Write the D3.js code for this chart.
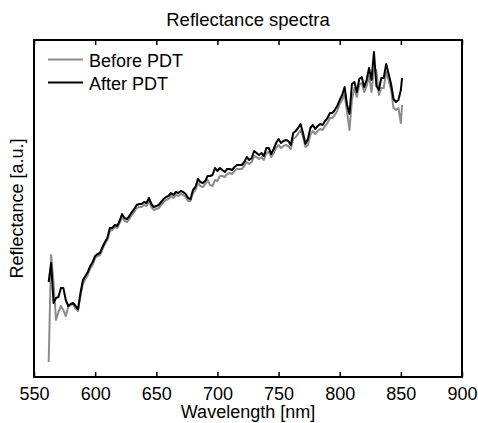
<!DOCTYPE html>
<html>
<head>
<meta charset="utf-8">
<script src="https://cdn.jsdelivr.net/npm/d3@7"></script>
<style>
  html, body { margin: 0; padding: 0; background: #fff; }
  svg { display: block; }
  text { font-family: "Liberation Sans", Arial, Helvetica, sans-serif; fill: #000; }
</style>
</head>
<body>
<svg id="chart" width="478" height="423"></svg>
<script>
const wavelengths = [562,564,566,568,570,572,574,576,578,580,582,584,586,588,590,592,594,596,598,600,
602,604,606,608,610,612,614,616,618,620,622,624,626,628,630,632,634,636,638,640,
642,644,646,648,650,652,654,656,658,660,662,664,666,668,670,672,674,676,678,680,
682,684,686,688,690,692,694,696,698,700,702,704,706,708,710,712,714,716,718,720,
722,724,726,728,730,732,734,736,738,740,742,744,746,748,750,752,754,756,758,760,
762,764,766,768,770,772,774,776,778,780,782,784,786,788,790,792,794,796,798,800,
802,804,806,808,810,812,814,816,818,820,822,824,826,828,830,832,834,836,838,840,
842,844,846,848,850,851];

const afterPDT = [95,114,74,79,80,89,89,77,71,73,74,71,68,84,97,101,105,111,115,121,
123,124,130,135,139,149,149,152,151,156,163,159,158,161,165,168,172,173,173,175,
174,179,173,170,171,172,175,178,180,181,184,182,185,184,186,185,183,179,178,187,
190,198,195,194,196,201,201,202,209,206,209,207,205,208,208,207,210,212,212,212,
215,220,217,219,226,224,222,224,221,229,229,223,228,234,238,234,236,237,236,232,
244,246,249,253,244,233,238,249,252,248,251,253,252,256,259,264,264,267,271,277,
282,290,272,263,293,295,285,298,300,290,297,309,297,325,291,287,299,299,313,303,
293,278,275,277,287,299];

const beforePDT = [15,122,94,57,65,71,67,61,70,72,73,68,66,81,93,98,102,109,112,119,
121,122,128,133,137,146,147,150,149,154,160,156,155,158,162,165,169,170,170,172,
171,176,170,167,168,169,172,175,177,178,181,179,182,181,183,182,180,176,176,184,
187,194,191,190,193,197,192,191,197,196,201,201,200,203,204,203,206,208,208,208,
211,215,213,215,221,220,218,220,217,224,225,220,224,229,232,229,231,232,231,228,
238,240,243,247,240,230,232,242,246,243,246,248,247,251,254,259,259,262,266,273,
277,283,265,247,277,289,280,292,294,285,291,301,285,307,307,282,289,289,305,297,
287,269,267,269,254,272];

const xTicks = [550,600,650,700,750,800,850,900];
const seriesNames = ["Before PDT", "After PDT"];
const seriesColors = ["#8c8c8c", "#000000"];

const svg = d3.select("#chart");
const W = 478, H = 423;
const m = { left: 34, right: 16, top: 40, bottom: 46 };
const x = d3.scaleLinear().domain([550, 900]).range([m.left, W - m.right]);
const y = d3.scaleLinear().domain([0, 337]).range([H - m.bottom, m.top]);

// x axes (bottom and top), ticks inward
const bottomAxis = d3.axisBottom(x).tickValues(xTicks).tickSize(-5).tickPadding(10).tickFormat(d3.format("d"));
const gB = svg.append("g").attr("transform", `translate(0,${H - m.bottom})`).call(bottomAxis);
gB.select(".domain").remove();
gB.selectAll(".tick line").attr("stroke", "#000").attr("stroke-width", 1.5);
gB.selectAll(".tick text").attr("font-size", 18).attr("font-family", '"Liberation Sans", Arial, sans-serif').attr("fill", "#000");

const topAxis = d3.axisTop(x).tickValues(xTicks).tickSize(-5).tickFormat("");
const gT = svg.append("g").attr("transform", `translate(0,${m.top})`).call(topAxis);
gT.select(".domain").remove();
gT.selectAll(".tick line").attr("stroke", "#000").attr("stroke-width", 1.5);

// data lines
const data = [beforePDT, afterPDT];
const line = d3.line().x((d, i) => x(wavelengths[i])).y(d => y(d));
data.forEach((s, k) => {
  svg.append("path")
    .datum(s)
    .attr("d", line)
    .attr("fill", "none")
    .attr("stroke", seriesColors[k])
    .attr("stroke-width", 2)
    .attr("stroke-linejoin", "round");
});

// frame
svg.append("rect")
  .attr("x", m.left).attr("y", m.top)
  .attr("width", W - m.left - m.right).attr("height", H - m.top - m.bottom)
  .attr("fill", "none").attr("stroke", "#000").attr("stroke-width", 2);

// legend
const leg = svg.append("g");
seriesNames.forEach((name, k) => {
  const ly = 59.5 + k * 23;
  leg.append("line").attr("x1", 48).attr("x2", 83).attr("y1", ly).attr("y2", ly)
    .attr("stroke", seriesColors[k]).attr("stroke-width", 2);
  leg.append("text").attr("x", 89).attr("y", ly + 7).attr("font-size", 18).text(name);
});

// title and labels
svg.append("text").attr("x", (m.left + W - m.right) / 2).attr("y", 26)
  .attr("text-anchor", "middle").attr("font-size", 18.5).text("Reflectance spectra");
svg.append("text").attr("x", (m.left + W - m.right) / 2).attr("y", 418)
  .attr("text-anchor", "middle").attr("font-size", 18).text("Wavelength [nm]");
svg.append("text").attr("transform", `translate(23,${(m.top + H - m.bottom) / 2}) rotate(-90)`)
  .attr("text-anchor", "middle").attr("font-size", 18).text("Reflectance [a.u.]");
</script>
</body>
</html>
